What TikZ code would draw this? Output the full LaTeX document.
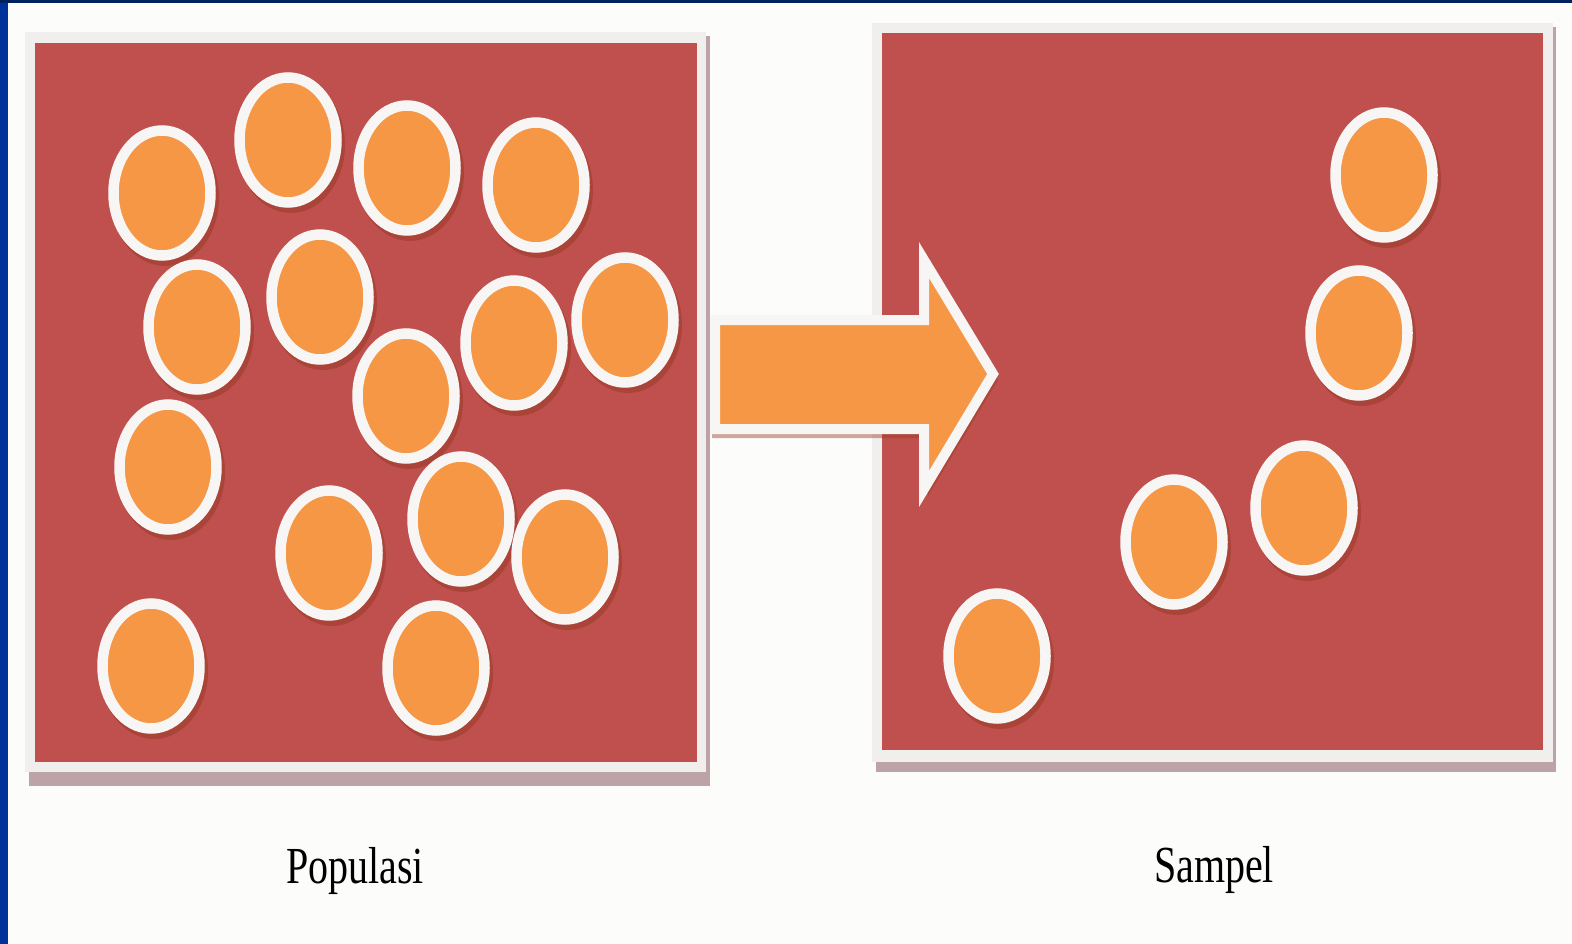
\documentclass[tikz,border=0pt]{standalone}
\usepackage{fontspec}
\setmainfont{Liberation Serif}
\definecolor{pagebg}{HTML}{FCFDFB}
\definecolor{navytop}{HTML}{00205F}
\definecolor{navyleft}{HTML}{00339A}
\definecolor{framecol}{HTML}{F1EEEE}
\definecolor{frameshade}{HTML}{BCA3A7}
\definecolor{panelred}{HTML}{C0504D}
\definecolor{ballorange}{HTML}{F59744}
\definecolor{ringwhite}{HTML}{F8F6F4}
\definecolor{ballshade}{HTML}{9A3B28}
\tikzset{
  panelframe/.style={fill=framecol},
  panelshade/.style={fill=frameshade},
  panelfill/.style={fill=panelred},
  ballshadow/.style={fill=ballshade, opacity=0.55},
  ball/.style={fill=ballorange, draw=ringwhite, line width=10.5pt},
  bigarrow/.style={fill=ballorange, draw=ringwhite, line width=10pt, line join=miter},
  arrowshade/.style={fill=ballshade, opacity=0.45},
  caption/.style={anchor=base, inner sep=0pt, font=\fontsize{40}{48}\selectfont, text=black}
}
\begin{document}
\begin{tikzpicture}[x=1pt, y=-1pt]
\useasboundingbox (0,0) rectangle (1572,944);
% page and edge bars
\fill[pagebg] (0,0) rectangle (1572,944);
\fill[navyleft] (0,0) rectangle (8,944);
\fill[navytop] (0,0) rectangle (1572,3);

% population panel
\fill[panelshade] (29,36) rectangle (710,786);
\fill[panelframe] (25,32) rectangle (706,772);
\fill[panelfill] (35,43) rectangle (697,762);

% sample panel
\fill[panelshade] (876,27) rectangle (1556,772);
\fill[panelframe] (872,23) rectangle (1553,762);
\fill[panelfill] (882,33) rectangle (1543,750);

% population members
\foreach \cx/\cy in {162/193, 288/140, 407/168, 536/185, 197/327, 320/297,
  514/343, 625/320, 406/396, 168/467, 461/519, 329/553, 565/557, 151/666, 436/668}{
  \fill[ballshadow] (\cx+3,\cy+5) ellipse [x radius=54pt, y radius=68pt];
  \draw[ball] (\cx,\cy) ellipse [x radius=48.5pt, y radius=62.5pt];
}

% sample members
\foreach \cx/\cy in {1384/175, 1359/333, 1304/508, 1174/542, 997/656}{
  \fill[ballshadow] (\cx+3,\cy+5) ellipse [x radius=54pt, y radius=68pt];
  \draw[ball] (\cx,\cy) ellipse [x radius=48.5pt, y radius=62.5pt];
}

% block arrow from population to sample
\fill[arrowshade] (712,325) -- (928,325) -- (928,266) -- (998,380) -- (928,496) -- (928,438) -- (712,438) -- cycle;
\draw[bigarrow] (715,320) -- (924,320) -- (924,260) -- (993,374) -- (924,489) -- (924,429) -- (715,429) -- cycle;

% captions
\node[caption] (populasi) at (355,883) {\scalebox{1}[1.3]{Populasi}};
\node[caption] (sampel) at (1214,882) {\scalebox{1}[1.3]{Sampel}};
\end{tikzpicture}
\end{document}
